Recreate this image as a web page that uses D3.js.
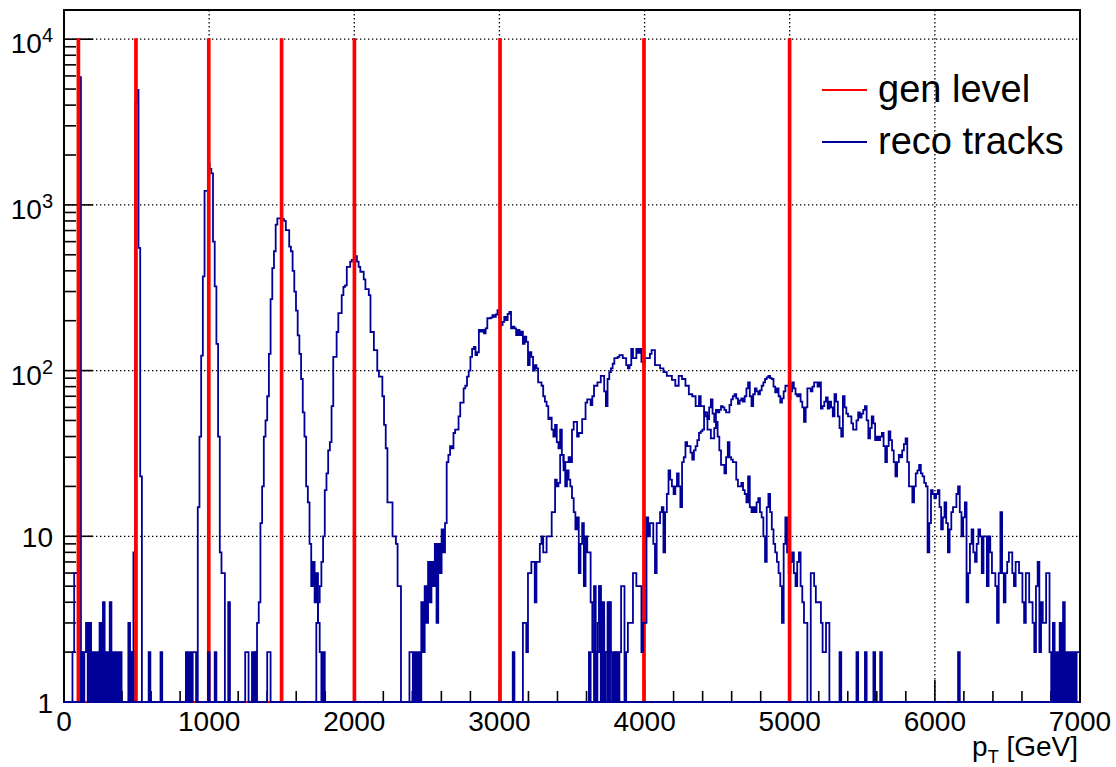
<!DOCTYPE html>
<html>
<head>
<meta charset="utf-8">
<script src="https://cdn.jsdelivr.net/npm/d3@7"></script>
<style>
  body { margin: 0; background: #fff; }
  svg { display: block; font-family: "Liberation Sans", Arial, Helvetica, sans-serif; }
</style>
</head>
<body>
<div id="chart"></div>
<script>
// binning of all histograms: 600 bins over 0 - 7000 GeV
const nBins = 600, ptMax = 7000;

// gen level: one histogram per sample, all entries in one bin
const genPt = [100, 500, 1000, 1500, 2000, 3000, 4000, 5000];
const genEntries = 10000;

// reco tracks: counts per bin, first value sits in bin recoStart[i]
const recoStart = [5, 40, 79, 113, 149, 204, 265, 310];

const reco100 = [2, 6, 6, 6, 5900, 2];

const reco500 = [2, 8, 4100, 4950, 550, 23];

const reco1000 = [15, 40, 123, 370, 1215, 1215, 1780, 1650, 1550, 600,
  322, 145, 40, 8, 6, 6, 0, 0, 4];

const reco1500 = [2, 3, 4, 12, 20, 40, 50, 70, 126, 270,
  415, 525, 760, 830, 830, 830, 820, 800, 705, 705,
  560, 525, 400, 300, 230, 163, 126, 89, 56, 40,
  20, 16, 9, 5, 7, 4, 6, 3, 2, 1,
  2];

const reco2000 = [3, 4, 5, 7, 10, 19, 24, 33, 37, 61,
  121, 121, 171, 222, 222, 285, 320, 327, 423, 423,
  454, 465, 465, 490, 454, 423, 395, 395, 355, 310,
  310, 285, 171, 171, 133, 133, 100, 92, 92, 70,
  47, 34, 16, 16, 16, 10, 10, 9, 5, 5];

const reco3000 = [2, 2, 0, 2, 0, 2, 0, 4, 2, 5,
  3, 7, 4, 7, 5, 9, 3, 9, 6, 11,
  8, 12, 28, 31, 35, 34, 42, 44, 44, 53,
  64, 64, 78, 81, 92, 100, 121, 135, 139, 124,
  129, 176, 172, 176, 168, 180, 207, 207, 209, 216,
  211, 218, 232, 207, 188, 197, 211, 202, 220, 226,
  180, 184, 180, 164, 176, 164, 172, 145, 160, 149,
  108, 129, 121, 100, 108, 103, 85, 85, 81, 70,
  65, 61, 51, 52, 44, 40, 47, 37, 34, 44,
  31, 28, 20, 25, 22, 20, 17, 14, 11, 13,
  6, 9, 12, 5, 10, 8, 8, 4, 2, 2,
  2, 3, 5, 2, 4, 2, 2, 0, 4, 2,
  0, 2];

const reco4000 = [2, 0, 0, 0, 0, 0, 3, 3, 2, 6,
  6, 7, 7, 4, 7, 7, 9, 10, 8, 8,
  10, 10, 10, 14, 14, 22, 20, 21, 31, 31,
  25, 28, 28, 30, 28, 44, 49, 49, 40, 42,
  42, 51, 51, 64, 67, 67, 62, 70, 81, 81,
  85, 85, 93, 93, 75, 61, 89, 98, 103, 110,
  119, 119, 121, 124, 124, 119, 119, 108, 103, 108,
  135, 119, 119, 135, 128, 135, 113, 113, 119, 119,
  119, 126, 133, 133, 108, 108, 108, 103, 103, 98,
  98, 93, 93, 93, 88, 88, 81, 81, 93, 93,
  89, 89, 81, 81, 72, 72, 70, 70, 61, 61,
  70, 61, 61, 56, 56, 44, 44, 39, 39, 45,
  49, 40, 33, 27, 27, 24, 30, 37, 30, 29,
  28, 28, 22, 20, 20, 21, 19, 18, 16, 23,
  15, 14, 15, 14, 16, 17, 14, 13, 10, 7,
  15, 18, 14, 11, 9, 8, 7, 6, 5, 3,
  9, 13, 8, 6, 7, 8, 6, 5, 7, 8,
  5, 4, 3, 3, 0, 0, 6, 6, 5, 4,
  4, 4, 3, 2, 2, 3, 3, 0, 0, 0,
  0, 0, 0, 2, 0, 0, 0, 0, 0, 0,
  0, 0, 0, 2, 0, 0, 0, 0, 2, 0,
  0, 0, 0, 2, 0, 0, 0, 2, 0, 0,
  0, 0, 0, 0, 0, 0, 0, 0, 0, 0,
  0, 0, 0, 0, 0, 0, 0, 0, 0, 0,
  0, 0, 0, 0, 0, 0, 0, 0, 0, 0,
  0, 0, 0, 0, 0, 0, 0, 0, 0, 0,
  0, 0, 0, 2];

const reco5000 = [2, 0, 0, 5, 0, 2, 5, 0, 3, 0,
  2, 4, 2, 0, 0, 0, 2, 0, 2, 5,
  5, 0, 2, 3, 3, 3, 6, 6, 5, 5,
  5, 2, 3, 3, 13, 10, 12, 12, 9, 6,
  12, 12, 14, 15, 8, 14, 18, 25, 22, 20,
  18, 20, 24, 20, 15, 28, 30, 37, 35, 35,
  32, 29, 33, 35, 38, 42, 43, 44, 56, 53,
  51, 60, 67, 55, 49, 58, 56, 58, 61, 60,
  58, 56, 56, 62, 67, 70, 72, 68, 63, 66,
  68, 65, 70, 78, 85, 70, 61, 72, 78, 75,
  72, 76, 81, 85, 89, 91, 93, 90, 89, 80,
  74, 78, 70, 64, 68, 75, 81, 81, 67, 75,
  85, 78, 72, 70, 72, 65, 60, 49, 60, 78,
  78, 75, 80, 85, 85, 80, 85, 59, 61, 65,
  69, 59, 65, 60, 53, 72, 65, 53, 45, 40,
  70, 60, 55, 53, 53, 48, 44, 44, 50, 56,
  52, 55, 58, 61, 50, 39, 45, 53, 48, 38,
  40, 38, 40, 42, 35, 28, 35, 43, 38, 33,
  28, 23, 28, 31, 30, 33, 36, 39, 28, 20,
  20, 16, 20, 24, 25, 27, 24, 23, 21, 20,
  8, 12, 19, 18, 17, 18, 19, 15, 11, 13,
  16, 12, 8, 11, 14, 15, 15, 18, 20, 14,
  10, 13, 16, 4, 6, 9, 11, 8, 7, 9,
  11, 10, 6, 10, 10, 5, 10, 8, 6, 6,
  5, 3, 6, 14, 6, 4, 6, 7, 8, 8,
  6, 5, 7, 7, 6, 6, 4, 3, 6, 6,
  4, 4, 3, 2, 5, 7, 2, 4, 3, 3,
  6, 6, 2, 1, 3, 1, 2, 1, 3, 1,
  4, 1, 2, 1, 2, 1, 2, 1, 2, 2];

// fake low-pT tracks, drawn last
const recoLowStart = 10;
const recoLow = [2, 1, 2, 3, 1, 3, 1, 2, 1, 2,
  1, 3, 1, 4, 1, 2, 1, 4, 1, 2,
  1, 2, 0, 2, 0, 0, 0, 0, 3, 0,
  2, 0, 0, 0, 0, 0, 0, 0, 0, 0,
  2, 0, 0, 0, 0, 0, 0, 2, 0, 0,
  0, 0, 0, 0, 0, 0, 0, 0, 0, 0,
  0, 0, 2, 0, 2, 0, 2, 2, 0, 0,
  0, 0, 0, 0, 0, 2, 0, 0, 0, 2,
  0, 0, 0, 0, 0, 0, 0, 0, 0, 0,
  0, 0, 0, 0, 0, 0, 0, 2, 2, 0,
  0, 2, 1, 2, 0, 0, 0, 0, 0, 0,
  2, 2];

const recoCounts = [reco100, reco500, reco1000, reco1500, reco2000, reco3000, reco4000, reco5000];

const xMajor = [0, 1000, 2000, 3000, 4000, 5000, 6000, 7000];
const yMajor = [1, 10, 100, 1000, 10000];
const yLabelBase = ["1", "10", "10", "10", "10"];
const yLabelExp = ["", "", "2", "3", "4"];
const legendLabels = ["gen level", "reco tracks"];

const genColor = "#ff0000", recoColor = "#000099";

const W = 1116, H = 767;
const frame = {left: 64, right: 1080, top: 10, bottom: 702};
const binW = ptMax / nBins;

const svg = d3.select("#chart").append("svg")
  .attr("width", W).attr("height", H);

const x = d3.scaleLinear().domain([0, ptMax]).range([frame.left, frame.right]);
const y = d3.scaleLog().domain([1, 15000]).range([frame.bottom, frame.top]);

// grid
const grid = svg.append("g")
  .attr("stroke", "#000").attr("stroke-width", 1.3)
  .attr("stroke-dasharray", "1.4,2.6");
grid.selectAll("line.gx").data(xMajor.slice(1, -1)).join("line")
  .attr("x1", d => x(d)).attr("x2", d => x(d))
  .attr("y1", frame.top).attr("y2", frame.bottom);
grid.selectAll("line.gy").data(yMajor.slice(1)).join("line")
  .attr("x1", frame.left).attr("x2", frame.right)
  .attr("y1", d => y(d)).attr("y2", d => y(d));

// frame
svg.append("rect")
  .attr("x", frame.left).attr("y", frame.top)
  .attr("width", frame.right - frame.left).attr("height", frame.bottom - frame.top)
  .attr("fill", "none").attr("stroke", "#000").attr("stroke-width", 2);

// ticks
const ticks = svg.append("g").attr("stroke", "#000").attr("stroke-width", 1.6);
const xMinor = d3.range(200, ptMax, 200).filter(v => v % 1000 !== 0);
ticks.selectAll("line.xM").data(xMajor).join("line")
  .attr("x1", d => x(d)).attr("x2", d => x(d))
  .attr("y1", frame.bottom).attr("y2", frame.bottom - 22);
ticks.selectAll("line.xm").data(xMinor).join("line")
  .attr("x1", d => x(d)).attr("x2", d => x(d))
  .attr("y1", frame.bottom).attr("y2", frame.bottom - 11);
const yMinor = [];
[1, 10, 100, 1000].forEach(dec => d3.range(2, 10).forEach(k => yMinor.push(dec * k)));
ticks.selectAll("line.yM").data(yMajor).join("line")
  .attr("x1", frame.left).attr("x2", frame.left + 29)
  .attr("y1", d => y(d)).attr("y2", d => y(d));
ticks.selectAll("line.ym").data(yMinor).join("line")
  .attr("x1", frame.left).attr("x2", frame.left + 12)
  .attr("y1", d => y(d)).attr("y2", d => y(d));

// histograms
function expand(start, counts) {
  const h = new Array(nBins).fill(0);
  counts.forEach((c, i) => { h[start + i] = c; });
  return h;
}
const step = d3.line()
  .x(d => x(d[0]))
  .y(d => y(Math.max(d[1], 1)))
  .curve(d3.curveStepAfter);
function histPath(h) {
  const pts = h.map((c, i) => [i * binW, c]);
  pts.push([ptMax, h[h.length - 1]]);
  return step(pts);
}
const hists = svg.append("g").attr("fill", "none").attr("stroke-linejoin", "miter");

genPt.forEach((pt, i) => {
  // reco of this sample first, its gen line on top
  hists.append("path")
    .attr("d", histPath(expand(recoStart[i], recoCounts[i])))
    .attr("stroke", recoColor).attr("stroke-width", 1.8);
  const g = new Array(nBins).fill(0);
  g[Math.floor(pt / binW)] = genEntries;
  hists.append("path")
    .attr("d", histPath(g))
    .attr("stroke", genColor).attr("stroke-width", 2);
});
hists.append("path")
  .attr("d", histPath(expand(recoLowStart, recoLow)))
  .attr("stroke", recoColor).attr("stroke-width", 1.8);

// axis labels
svg.append("g").attr("font-size", 28).attr("fill", "#000")
  .attr("text-anchor", "middle")
  .selectAll("text").data(xMajor).join("text")
  .attr("x", d => x(d)).attr("y", 731)
  .text(d => d);

const yl = svg.append("g").attr("fill", "#000").attr("text-anchor", "end");
yMajor.forEach((v, i) => {
  const t = yl.append("text").attr("x", 53).attr("font-size", 28);
  if (yLabelExp[i]) {
    t.attr("y", y(v) + 14);
    t.append("tspan").text(yLabelBase[i]);
    t.append("tspan").attr("font-size", 20).attr("dy", -11).text(yLabelExp[i]);
  } else {
    t.attr("y", y(v) + 11).text(yLabelBase[i]);
  }
});

// x-axis title
const xt = svg.append("text").attr("x", 1078).attr("y", 756)
  .attr("text-anchor", "end").attr("font-size", 28).attr("fill", "#000");
xt.append("tspan").text("p");
xt.append("tspan").attr("font-size", 18).attr("dy", 7).text("T");
xt.append("tspan").attr("dy", -7).text(" [GeV]");

// legend
const legend = svg.append("g");
const legendColors = [genColor, recoColor];
legendLabels.forEach((lab, i) => {
  const ly = 90 + i * 52;
  legend.append("line")
    .attr("x1", 822).attr("x2", 867)
    .attr("y1", ly).attr("y2", ly)
    .attr("stroke", legendColors[i]).attr("stroke-width", 2);
  legend.append("text")
    .attr("x", 878).attr("y", ly + 12)
    .attr("font-size", 38).attr("fill", "#000")
    .text(lab);
});
</script>
</body>
</html>
